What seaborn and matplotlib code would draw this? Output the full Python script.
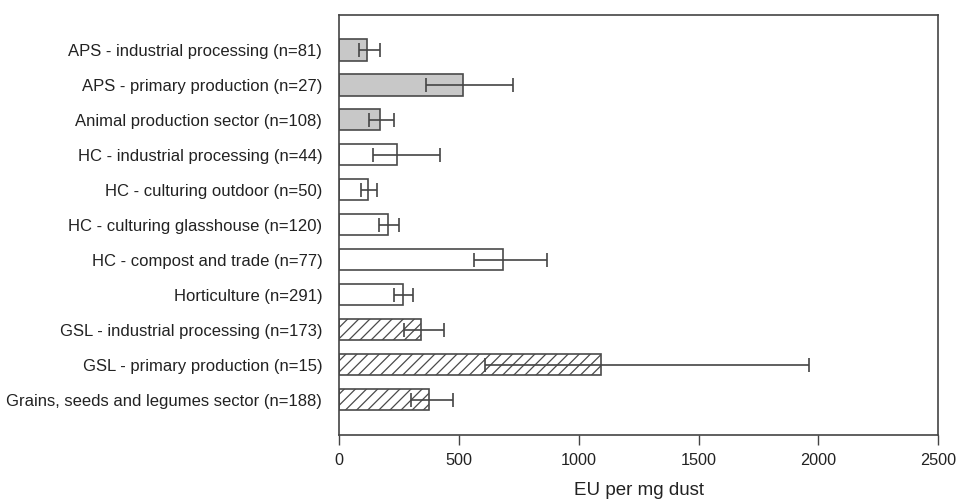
import matplotlib
matplotlib.use("Agg")
import matplotlib.pyplot as plt
import seaborn as sns
import pandas as pd

# Endotoxin levels per sector (EU per mg dust) with lower/upper bounds
categories = [
    "APS - industrial processing (n=81)",
    "APS - primary production (n=27)",
    "Animal production sector (n=108)",
    "HC - industrial processing (n=44)",
    "HC - culturing outdoor (n=50)",
    "HC - culturing glasshouse (n=120)",
    "HC - compost and trade (n=77)",
    "Horticulture (n=291)",
    "GSL - industrial processing (n=173)",
    "GSL - primary production (n=15)",
    "Grains, seeds and legumes sector (n=188)",
]
values = [116, 516, 173, 244, 123, 206, 684, 267, 342, 1093, 377]
lower = [82, 364, 125, 142, 92, 167, 563, 228, 273, 607, 302]
upper = [169, 725, 229, 421, 160, 252, 867, 310, 437, 1962, 475]
sector = ["APS"] * 3 + ["HC"] * 5 + ["GSL"] * 3

xticks = [0, 500, 1000, 1500, 2000, 2500]
xlabel = "EU per mg dust"

df = pd.DataFrame({"category": categories, "value": values,
                   "lower": lower, "upper": upper, "sector": sector})

sns.set_theme(style="white")
plt.rcParams["font.family"] = ["Liberation Sans", "DejaVu Sans"]
plt.rcParams["hatch.linewidth"] = 0.9

fill = {"APS": "#c8c8c8", "HC": "#ffffff", "GSL": "#ffffff"}
hatch = {"APS": "", "HC": "", "GSL": "///"}
edge = "#4a4a4a"

fig = plt.figure(figsize=(9.56, 5.03), dpi=100)
ax = fig.add_axes([339 / 956, 1 - 434.5 / 503, (938.3 - 339) / 956, (434.5 - 14.7) / 503])

sns.barplot(data=df, x="value", y="category", order=categories,
            hue="category", palette=[fill[s] for s in sector], legend=False,
            width=0.62, edgecolor=edge, linewidth=1.2, errorbar=None, ax=ax,
            zorder=2)

for patch, s in zip(ax.patches, sector):
    patch.set_hatch(hatch[s])
    patch.set_edgecolor(edge)

# asymmetric error bars from the bounds
xerr = [[v - lo for v, lo in zip(values, lower)],
        [hi - v for v, hi in zip(values, upper)]]
ax.errorbar(values, range(len(categories)), xerr=xerr, fmt="none",
            ecolor="#444444", elinewidth=1.2, capsize=5, capthick=1.2, zorder=3)

ax.set_xlim(0, 2500)
ax.set_ylim(len(categories), -1)
ax.set_xticks(xticks)
ax.set_xticklabels([str(t) for t in xticks], fontsize=11.7, color="#222222")
ax.tick_params(axis="x", direction="out", length=7, width=1, color="#444444",
               pad=6, bottom=True)
ax.tick_params(axis="y", length=0, pad=12, labelsize=12, labelcolor="#222222")
ax.set_xlabel(xlabel, fontsize=13.5, color="#222222", labelpad=10.5)
ax.set_ylabel("")
for sp in ax.spines.values():
    sp.set_visible(True)
    sp.set_color("#444444")
    sp.set_linewidth(1.2)

fig.savefig("out.png", dpi=100)
